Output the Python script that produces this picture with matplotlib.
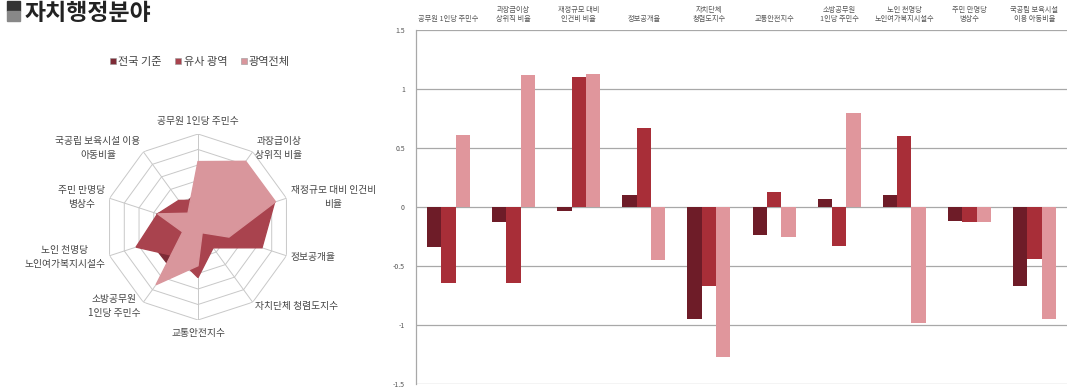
import numpy as np
import matplotlib.pyplot as plt
from matplotlib.patches import Patch, Rectangle

plt.rcParams['font.family'] = ['Noto Sans CJK KR', 'DejaVu Sans']

# categories (bar chart labels / radar labels)
bar_labels = ["공무원 1인당 주민수", "과장급이상\n상위직 비율", "재정규모 대비\n인건비 비율", "정보공개율",
              "자치단체\n청렴도지수", "교통안전지수", "소방공무원\n1인당 주민수",
              "노인 천명당\n노인여가복지시설수", "주민 만명당\n병상수", "국공립 보육시설\n이용 아동비율"]
radar_labels = ["공무원 1인당 주민수", "과장급이상\n상위직 비율", "재정규모 대비 인건비\n비율", "정보공개율",
                "자치단체 청렴도지수", "교통안전지수", "소방공무원\n1인당 주민수",
                "노인 천명당\n노인여가복지시설수", "주민 만명당\n병상수", "국공립 보육시설 이용\n아동비율"]
series_names = ["전국 기준", "유사 광역", "광역전체"]

# standardized scores
national = [-0.34, -0.13, -0.03, 0.10, -0.95, -0.24, 0.065, 0.10, -0.12, -0.67]
similar = [-0.64, -0.64, 1.10, 0.67, -0.67, 0.13, -0.33, 0.60, -0.13, -0.44]
metro_all = [0.61, 1.12, 1.13, -0.45, -1.27, -0.25, 0.80, -0.98, -0.13, -0.95]

yticks = [-1.5, -1, -0.5, 0, 0.5, 1, 1.5]
ytick_text = ["-1.5", "-1", "-0.5", "0", "0.5", "1", "1.5"]

bar_colors = ['#6e1c28', '#a82e38', '#e0969c']
radar_colors = ['#7d2b36', '#a9434e', '#d9969c']
grid_col = '#a8a8a8'
text_col = '#555555'

fig = plt.figure(figsize=(10.71, 3.91), dpi=100)

# title with bullet squares
fig.patches.append(Rectangle((7 / 1071, 1 - 11 / 391), 13 / 1071, 10 / 391, transform=fig.transFigure,
                             color='#333333', zorder=5))
fig.patches.append(Rectangle((7 / 1071, 1 - 21 / 391), 13 / 1071, 10 / 391, transform=fig.transFigure,
                             color='#888888', zorder=5))
fig.text(25 / 1071, 1 - 19.5 / 391, "자치행정분야", fontsize=16.5, fontweight='bold', color='#222222',
         ha='left', va='baseline')

# ---- radar chart ----
n = len(radar_labels)
theta = np.linspace(0, 2 * np.pi, n, endpoint=False)
theta_c = np.append(theta, theta[0])

rax = fig.add_axes([105 / 1071, 1 - 320 / 391, 186 / 1071, 186 / 391], projection='polar')
rax.set_theta_offset(np.pi / 2)
rax.set_theta_direction(-1)
rax.set_ylim(-1.5, 1.5)
rax.spines['polar'].set_visible(False)
rax.grid(False)
rax.set_yticks([])
rax.set_xticks([])
for r in yticks[1:]:
    rax.plot(theta_c, [r] * (n + 1), color='#c8c8c8', lw=0.7, zorder=1)
for t in theta:
    rax.plot([t, t], [-1.5, 1.5], color='#c8c8c8', lw=0.7, zorder=1)

handles = []
for vals, col, name in zip([national, similar, metro_all], radar_colors, series_names):
    v = np.append(vals, vals[0])
    rax.fill(theta_c, v, color=col, zorder=2)
    handles.append(Patch(facecolor=col, edgecolor='#999999', linewidth=0.4, label=name))

for t, lab in zip(theta, radar_labels):
    s, c = np.sin(t), np.cos(t)
    if abs(s) < 0.01:
        ha = 'center'
        va = 'bottom' if c > 0 else 'top'
        rr = 1.75
    else:
        ha = 'left' if s > 0 else 'right'
        va = 'center'
        rr = 1.65
    rax.text(t, rr, lab, ha=ha, va=va, fontsize=7, color='#444444', multialignment='center',
             linespacing=1.5, clip_on=False)

fig.legend(handles=handles, loc='center', bbox_to_anchor=(200 / 1071, 1 - 62 / 391), ncol=3,
           frameon=False, fontsize=8, handlelength=0.55, handleheight=0.55, handletextpad=0.2,
           columnspacing=1.2, labelcolor='#444444')

# ---- bar chart ----
bax = fig.add_axes([416 / 1071, 1 - 384 / 391, 651 / 1071, 354 / 391])
x = np.arange(len(bar_labels))
w = 0.22
for i, (vals, col) in enumerate(zip([national, similar, metro_all], bar_colors)):
    bax.bar(x + (i - 1) * w, vals, width=w, color=col, zorder=3)

bax.set_xlim(-0.5, len(bar_labels) - 0.5)
bax.set_ylim(-1.5, 1.5)
bax.set_yticks(yticks)
bax.set_yticklabels(ytick_text)
bax.tick_params(axis='y', length=0, labelsize=5, labelcolor=text_col, pad=8)
bax.set_xticks([])
for y in yticks:
    bax.axhline(y, color=grid_col, lw=0.9, zorder=1)
for side in ['top', 'right', 'bottom']:
    bax.spines[side].set_visible(False)
bax.spines['left'].set_color(grid_col)
bax.spines['left'].set_linewidth(0.9)

for xi, lab in zip(x, bar_labels):
    bax.annotate(lab, xy=(xi, 1.0), xycoords=('data', 'axes fraction'), xytext=(0, 5),
                 textcoords='offset points', ha='center', va='bottom', fontsize=5.2,
                 color=text_col, linespacing=1.15)

fig.savefig('out.png', dpi=100)
